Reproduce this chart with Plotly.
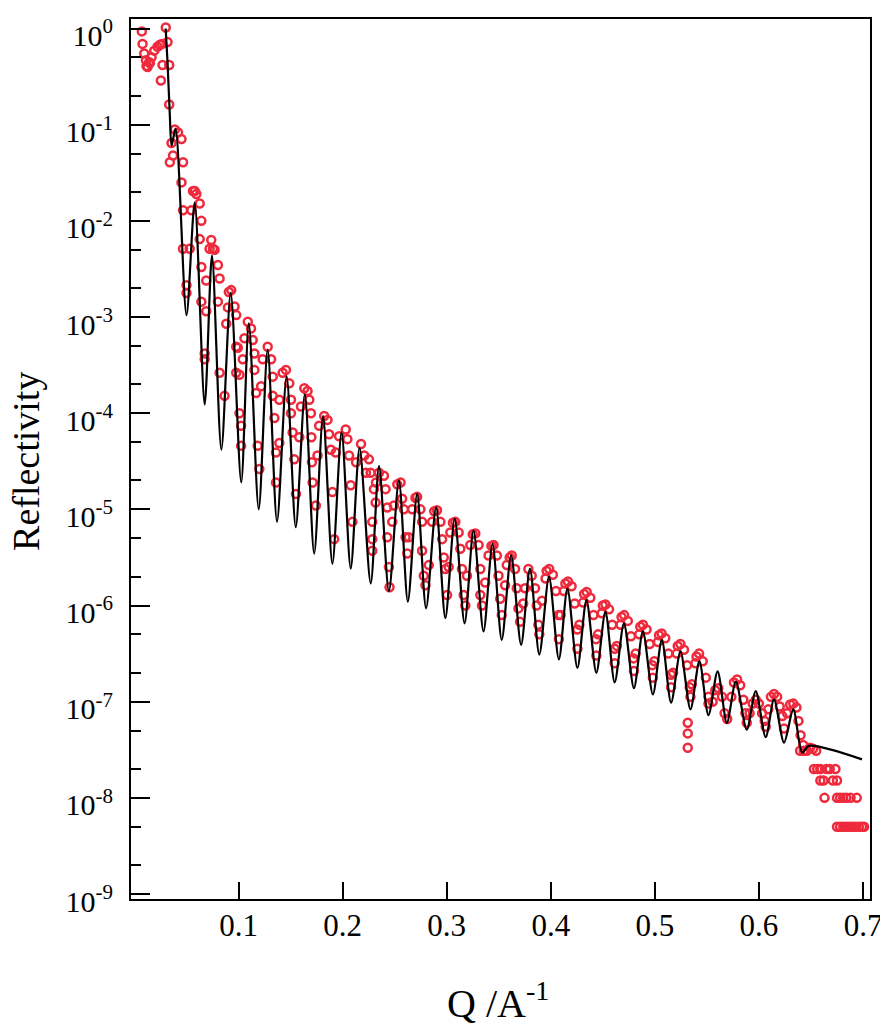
import plotly.graph_objects as go

# ---- model fit curve (Q in 1/A, log10 reflectivity) ----
fit_q = [0.0300, 0.0318, 0.0340, 0.0357, 0.0395, 0.0500, 0.0579, 0.0675, 0.0745, 0.0835,
         0.0925, 0.1026, 0.1099, 0.1194, 0.1280, 0.1370, 0.1462, 0.1550, 0.1637, 0.1727,
         0.1812, 0.1902, 0.1990, 0.2078, 0.2163, 0.2270, 0.2350, 0.2445, 0.2541, 0.2627,
         0.2716, 0.2802, 0.2898, 0.2987, 0.3077, 0.3172, 0.3258, 0.3354, 0.3440, 0.3529,
         0.3619, 0.3715, 0.3800, 0.3890, 0.3983, 0.4078, 0.4160, 0.4256, 0.4343, 0.4438,
         0.4525, 0.4614, 0.4703, 0.4799, 0.4885, 0.4981, 0.5067, 0.5156, 0.5246, 0.5342,
         0.5428, 0.5515, 0.5603, 0.5692, 0.5778, 0.5883, 0.5969, 0.6065, 0.6145, 0.6241,
         0.6330, 0.6416, 0.6480, 0.6990]
fit_log_r = [0.00, -0.35, -0.90, -1.22, -1.04, -2.98, -1.81, -3.91, -2.36, -4.38,
             -2.75, -4.72, -3.065, -5.00, -3.34, -5.13, -3.616, -5.185, -3.807, -5.46,
             -4.03, -5.565, -4.20, -5.616, -4.36, -5.77, -4.55, -5.85, -4.70, -5.96,
             -4.84, -6.03, -4.978, -6.13, -5.10, -6.185, -5.22, -6.27, -5.358, -6.357,
             -5.478, -6.41, -5.616, -6.51, -5.70, -6.56, -5.823, -6.65, -5.943, -6.70,
             -6.064, -6.80, -6.185, -6.86, -6.27, -6.925, -6.357, -7.01, -6.478, -7.08,
             -6.58, -7.14, -6.685, -7.22, -6.79, -7.29, -6.89, -7.37, -6.977, -7.426,
             -7.08, -7.53, -7.46, -7.60]

# ---- measured data (Q, log10 reflectivity) ----
data_q = [
    0.0071, 0.0078, 0.0094, 0.0110, 0.0116, 0.0126, 0.0142, 0.0148, 0.0165, 0.0190,
    0.0222, 0.0244, 0.0266, 0.0270, 0.0254, 0.0301, 0.0318, 0.0334, 0.0334,
    0.0356, 0.0340, 0.0371, 0.0388, 0.0419, 0.0452, 0.0467, 0.0452, 0.0467, 0.0467,
    0.0531, 0.0500, 0.0500,
    0.0547, 0.0563, 0.0579, 0.0595, 0.0627, 0.0643, 0.0627, 0.0643, 0.0643, 0.0690,
    0.0675, 0.0675,
    0.0690, 0.0722, 0.0738, 0.0754, 0.0770, 0.0802, 0.0818, 0.0802, 0.0818, 0.0866,
    0.0882, 0.0898, 0.0907, 0.0930, 0.0962, 0.0978, 0.0978, 0.0993, 0.0978, 0.1009,
    0.1009, 0.1025, 0.1025,
    0.1041, 0.1057, 0.1089, 0.1120, 0.1137, 0.1153, 0.1153, 0.1169, 0.1184, 0.1200,
    0.1217, 0.1232, 0.1280, 0.1313, 0.1329, 0.1329, 0.1345, 0.1360, 0.1360,
    0.1392, 0.1392, 0.1424, 0.1456, 0.1488, 0.1504, 0.1504, 0.1520, 0.1536, 0.1552,
    0.1584, 0.1600, 0.1632, 0.1663, 0.1680, 0.1696, 0.1700, 0.1705, 0.1712, 0.1743,
    0.1759, 0.1775, 0.1823, 0.1855, 0.1870, 0.1887, 0.1902, 0.1919,
    0.1934, 0.1966, 0.2030, 0.2046, 0.2062, 0.2078, 0.2094,
    0.2129, 0.2177, 0.2208, 0.2224, 0.2253, 0.2269, 0.2301, 0.2285, 0.2285, 0.2285,
    0.2317, 0.2321, 0.2349, 0.2397, 0.2413, 0.2429, 0.2429, 0.2445, 0.2451,
    0.2477, 0.2493, 0.2525, 0.2557, 0.2572, 0.2589, 0.2605, 0.2621,
    0.2636, 0.2668, 0.2700, 0.2716, 0.2748, 0.2764, 0.2764, 0.2780, 0.2796,
    0.2828, 0.2860, 0.2880, 0.2907, 0.2940, 0.2956, 0.2972, 0.2987, 0.3003,
    0.3019, 0.3035, 0.3060, 0.3083, 0.3115, 0.3131, 0.3147, 0.3163, 0.3179,
    0.3195, 0.3227, 0.3250, 0.3275, 0.3307, 0.3323, 0.3323, 0.3339,
    0.3370, 0.3402, 0.3430, 0.3450, 0.3482, 0.3498, 0.3514, 0.3529,
    0.3561, 0.3577, 0.3605, 0.3625, 0.3657, 0.3673, 0.3689, 0.3705,
    0.3735, 0.3753, 0.3785, 0.3817, 0.3849, 0.3865, 0.3881,
    0.3890, 0.3915, 0.3950, 0.3960, 0.3985, 0.4020, 0.4050, 0.4075,
    0.4078, 0.4095, 0.4125, 0.4140, 0.4165, 0.4200, 0.4230, 0.4255,
    0.4256, 0.4275, 0.4310, 0.4320, 0.4345, 0.4380, 0.4410, 0.4435,
    0.4438, 0.4455, 0.4490, 0.4500, 0.4525, 0.4560, 0.4590, 0.4615,
    0.4614, 0.4635, 0.4670, 0.4680, 0.4705, 0.4740, 0.4770, 0.4795,
    0.4799, 0.4815, 0.4850, 0.4860, 0.4885, 0.4920, 0.4950, 0.4975,
    0.4981, 0.4995, 0.5030, 0.5040, 0.5065, 0.5100, 0.5130, 0.5155,
    0.5156, 0.5175, 0.5210, 0.5220, 0.5245, 0.5280, 0.5310, 0.5335,
    0.5316, 0.5316, 0.5316,
    0.5342, 0.5355, 0.5390, 0.5400, 0.5425, 0.5460, 0.5490, 0.5515,
    0.5515, 0.5555, 0.5580, 0.5610, 0.5645, 0.5670, 0.5695,
    0.5735, 0.5760, 0.5790, 0.5820, 0.5850, 0.5870,
    0.5883, 0.5910, 0.5940, 0.5970, 0.6000, 0.6030, 0.6055,
    0.6065, 0.6090, 0.6115, 0.6145, 0.6175, 0.6200, 0.6225,
    0.6241, 0.6270, 0.6300, 0.6330, 0.6360, 0.6380, 0.6400,
    0.6395, 0.6425, 0.6430, 0.6460, 0.6490, 0.6520, 0.6550,
    0.6528, 0.6560, 0.6590, 0.6650, 0.6680, 0.6735,
    0.6590, 0.6620, 0.6710, 0.6750,
    0.6630, 0.6750, 0.6780, 0.6810, 0.6840, 0.6880, 0.6940,
    0.6750, 0.6780, 0.6810, 0.6840, 0.6870, 0.6900, 0.6930, 0.6960, 0.6990, 0.7010,
]
data_log_r = [
    -0.03, -0.16, -0.26, -0.33, -0.39, -0.40, -0.35, -0.36, -0.30, -0.23,
    -0.19, -0.17, -0.16, -0.38, -0.54, 0.01, -0.14, -0.38, -0.79,
    -1.19, -1.39, -1.32, -1.05, -1.08, -1.15, -1.39, -1.60, -1.89, -2.29,
    -2.29, -2.67, -2.75,
    -1.89, -1.69, -1.69, -1.72, -1.82, -2.00, -2.19, -2.48, -2.84, -2.94,
    -3.38, -3.44,
    -2.62, -2.29, -2.20, -2.29, -2.30, -2.46, -2.60, -2.84, -3.58, -3.82,
    -3.07, -2.90, -2.74, -2.72, -2.89, -2.98, -3.31, -3.32, -3.58, -3.60,
    -4.00, -4.13, -4.34,
    -3.44, -3.22, -3.05, -3.12, -3.24, -3.38, -3.55, -3.79, -4.34, -4.58,
    -3.72, -3.44, -3.31, -3.44, -3.62, -3.82, -4.05, -4.41, -4.72,
    -4.31, -3.86, -3.58, -3.55, -3.69, -3.86, -4.00, -4.20, -4.48, -4.84,
    -4.25, -3.93, -3.74, -3.77, -3.86, -4.00, -4.25, -4.51, -4.72, -4.96,
    -4.44, -4.13, -4.03, -4.07, -4.22, -4.38, -4.82, -5.31,
    -4.41, -4.24, -4.17, -4.27, -4.44, -4.75, -5.13,
    -4.51, -4.32, -4.44, -4.62, -4.48, -4.62, -4.79, -5.13, -5.31, -5.43,
    -4.93, -4.72, -4.62, -4.65, -4.79, -4.98, -5.29, -5.60, -5.81,
    -5.13, -4.96, -4.74, -4.72, -4.89, -5.00, -5.29, -5.46,
    -5.29, -5.00, -4.88, -4.87, -5.00, -5.13, -5.43, -5.69, -5.79,
    -5.58, -5.13, -5.02, -5.01, -5.13, -5.31, -5.50, -5.62, -5.89,
    -5.60, -5.24, -5.14, -5.13, -5.24, -5.41, -5.62, -5.89, -6.00,
    -5.69, -5.37, -5.26, -5.25, -5.37, -5.62, -5.89, -6.00,
    -5.76, -5.48, -5.38, -5.37, -5.48, -5.69, -5.93, -6.10,
    -5.79, -5.58, -5.50, -5.48, -5.62, -5.82, -6.03, -6.17,
    -5.98, -5.82, -5.62, -5.69, -5.82, -6.00, -6.20,
    -6.30, -5.95, -5.72, -5.64, -5.62, -5.68, -5.85, -6.10,
    -6.35, -6.10, -5.85, -5.77, -5.75, -5.80, -5.98, -6.25,
    -6.45, -6.20, -5.97, -5.88, -5.86, -5.92, -6.10, -6.35,
    -6.52, -6.30, -6.08, -6.00, -5.99, -6.04, -6.20, -6.45,
    -6.60, -6.42, -6.20, -6.12, -6.10, -6.16, -6.32, -6.55,
    -6.68, -6.50, -6.30, -6.22, -6.20, -6.25, -6.40, -6.62,
    -6.75, -6.58, -6.38, -6.31, -6.29, -6.34, -6.50, -6.72,
    -6.85, -6.70, -6.50, -6.42, -6.40, -6.46, -6.62, -6.85,
    -7.22, -7.33, -7.48,
    -6.95, -6.82, -6.60, -6.53, -6.50, -6.58, -6.75, -6.95,
    -7.02, -7.00, -6.88, -6.86, -6.95, -7.12, -7.18,
    -6.95, -6.80, -6.77, -6.83, -6.98, -7.12,
    -7.22, -7.12, -7.02, -6.98, -7.02, -7.12, -7.20,
    -7.26, -7.08, -6.95, -6.92, -6.95, -7.05, -7.15,
    -7.28, -7.12, -7.03, -7.02, -7.06, -7.20, -7.35,
    -7.51, -7.45, -7.51, -7.51, -7.48, -7.49, -7.51,
    -7.70, -7.70, -7.70, -7.70, -7.70, -7.70,
    -7.82, -7.82, -7.82, -7.82,
    -8.00, -8.00, -8.00, -8.00, -8.00, -8.00, -8.00,
    -8.30, -8.30, -8.30, -8.30, -8.30, -8.30, -8.30, -8.30, -8.30, -8.30,
]

x_tick_vals = [0.1, 0.2, 0.3, 0.4, 0.5, 0.6, 0.7]
x_tick_text = ["0.1", "0.2", "0.3", "0.4", "0.5", "0.6", "0.7"]
y_exponents = [-9, -8, -7, -6, -5, -4, -3, -2, -1, 0]

fit_r = [10 ** v for v in fit_log_r]
data_r = [10 ** v for v in data_log_r]

SERIF = "Liberation Serif"

fig = go.Figure()
fig.add_trace(go.Scatter(
    x=data_q, y=data_r, mode="markers",
    marker=dict(symbol="circle-open", size=8, color="#ee2a3c", line=dict(width=2.5, color="#ee2a3c")),
    showlegend=False, hoverinfo="skip",
))
fig.add_trace(go.Scatter(
    x=fit_q, y=fit_r, mode="lines",
    line=dict(color="black", width=2.2, shape="spline", smoothing=0.8),
    showlegend=False, hoverinfo="skip",
))

# the page body has an 8px default margin, so the figure is sized to fit the window
fig.update_layout(
    width=880, height=1017,
    margin=dict(l=123, r=15, t=6, b=126),
    paper_bgcolor="white", plot_bgcolor="white",
    font=dict(family=SERIF, color="black", size=31),
    showlegend=False,
)
fig.update_xaxes(
    range=[-0.0033, 0.7067],
    tickvals=x_tick_vals, ticktext=x_tick_text,
    ticks="inside", ticklen=17, tickwidth=2, tickcolor="black",
    tickfont=dict(size=31, family=SERIF, color="black"),
    ticklabelstandoff=-2,
    showline=True, linewidth=2, linecolor="black", mirror=True,
    showgrid=False, zeroline=False,
)
fig.update_yaxes(
    type="log", range=[-9.052, 0.099],
    tickvals=[10 ** e for e in y_exponents],
    ticktext=["10<sup>%d</sup>" % e for e in y_exponents],
    ticks="inside", ticklen=19, tickwidth=2, tickcolor="black",
    tickfont=dict(size=30, family=SERIF, color="black"),
    ticklabelstandoff=10,
    ticklabelshift=7,
    minor=dict(ticks="inside", ticklen=10, tickwidth=1.5, tickcolor="black", showgrid=False),
    showline=True, linewidth=2, linecolor="black", mirror=True,
    showgrid=False, zeroline=False,
)
fig.add_annotation(
    text="Reflectivity", xref="paper", yref="paper",
    x=-0.143, y=0.497, xanchor="center", yanchor="middle",
    textangle=-90, showarrow=False, font=dict(size=38, family=SERIF, color="black"),
)
fig.add_annotation(
    text="Q /A<sup>-1</sup>", xref="paper", yref="paper",
    x=0.497, y=-0.1153, xanchor="center", yanchor="middle",
    showarrow=False, font=dict(size=40, family=SERIF, color="black"),
)

fig.write_html("out.html")
